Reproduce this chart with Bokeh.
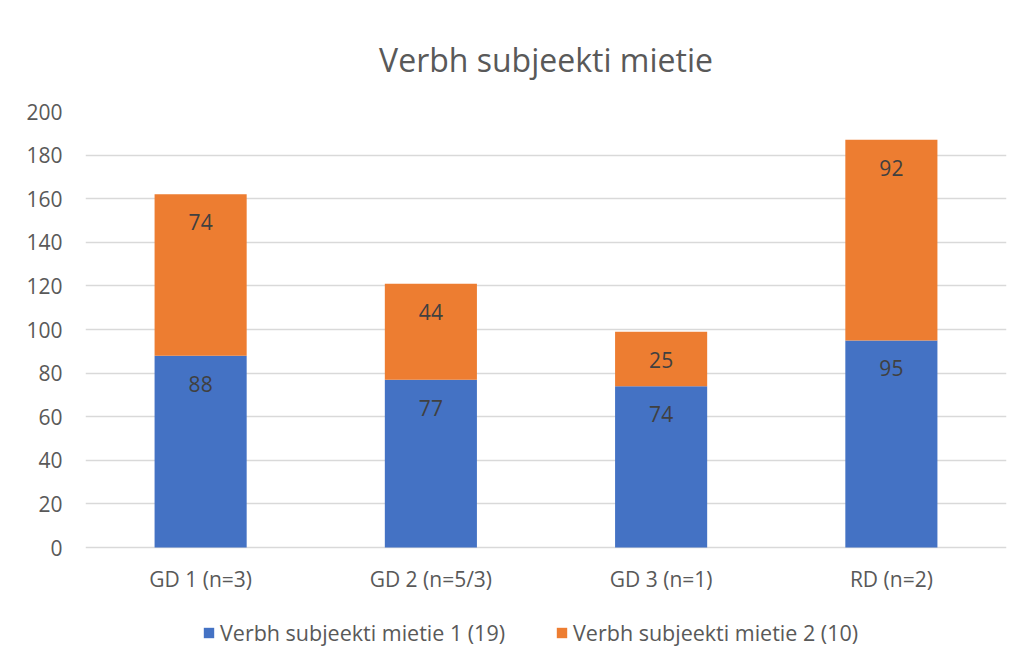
from bokeh.plotting import figure
from bokeh.models import ColumnDataSource, Legend, LegendItem, FactorRange, Range1d
from bokeh.core.properties import value
from bokeh.embed import file_html
from bokeh.resources import INLINE

categories = ["GD 1 (n=3)", "GD 2 (n=5/3)", "GD 3 (n=1)", "RD (n=2)"]
series1 = [88, 77, 74, 95]
series2 = [74, 44, 25, 92]
series_names = ["Verbh subjeekti mietie 1 (19)", "Verbh subjeekti mietie 2 (10)"]
title_text = "Verbh subjeekti mietie"
y_ticks = [0, 20, 40, 60, 80, 100, 120, 140, 160, 180, 200]

FONT = "Open Sans"
TXT = "#595959"
BLUE = "#4472C4"
ORANGE = "#ED7D31"
GRID = "#D9D9D9"

W, H = 1025, 664
FRAME_TOP, FRAME_LEFT, FRAME_RIGHT = 111, 85, 1006
ZERO_PX = 547                      # pixel row of value 0
px_per_unit = (ZERO_PX - FRAME_TOP) / 200.0
y_start = -(H - ZERO_PX) / px_per_unit   # room below 0 for labels and legend

top1 = series1
top2 = [a + b for a, b in zip(series1, series2)]
src = ColumnDataSource(dict(cat=categories, s1=series1, s2=series2,
                            top1=top1, top2=top2,
                            l1=[str(v) for v in series1], l2=[str(v) for v in series2]))

p = figure(x_range=FactorRange(*categories, range_padding=0), y_range=Range1d(y_start, 200),
           width=W, height=H, output_backend="svg", toolbar_location=None,
           min_border_left=FRAME_LEFT, min_border_right=W - FRAME_RIGHT,
           min_border_top=FRAME_TOP, min_border_bottom=0)
p.outline_line_color = None
p.background_fill_color = "white"
p.border_fill_color = "white"

p.title.text = title_text
p.title.align = "center"
p.title.text_font = FONT
p.title.text_font_size = "32px"
p.title.text_font_style = "normal"
p.title.text_color = TXT
p.title.standoff = 62

r1 = p.vbar(x="cat", top="top1", bottom=0, width=0.4, source=src, fill_color=BLUE, line_color=None)
r2 = p.vbar(x="cat", top="top2", bottom="top1", width=0.4, source=src, fill_color=ORANGE, line_color=None)

for top, lab in (("top1", "l1"), ("top2", "l2")):
    p.text(x="cat", y=top, text=lab, source=src, text_align="center", text_baseline="top",
           y_offset=20, text_font=value(FONT), text_font_size="21px", text_color="#404040")

p.yaxis.ticker = y_ticks
p.ygrid.grid_line_color = GRID
p.ygrid.grid_line_width = 1.5
p.xgrid.grid_line_color = None
for ax in (p.xaxis[0], p.yaxis[0]):
    ax.axis_line_color = None
    ax.major_tick_line_color = None
    ax.minor_tick_line_color = None
    ax.major_tick_out = 0
    ax.major_tick_in = 0
    ax.minor_tick_out = 0
    ax.major_label_text_font = FONT
    ax.major_label_text_font_size = "21px"
    ax.major_label_text_color = TXT
p.yaxis.major_label_standoff = 23
p.xaxis.major_label_standoff = 17
p.xaxis.fixed_location = 0

legend = Legend(items=[LegendItem(label=series_names[0], renderers=[r1]),
                       LegendItem(label=series_names[1], renderers=[r2])],
                orientation="horizontal", location=(117, 17),
                label_text_font=FONT, label_text_font_size="21.5px", label_text_color=TXT,
                glyph_width=13, glyph_height=13, label_standoff=5, spacing=50,
                padding=0, margin=0, border_line_color=None, background_fill_alpha=0)
p.add_layout(legend, "center")

open("out.html", "w").write(file_html(p, INLINE))
